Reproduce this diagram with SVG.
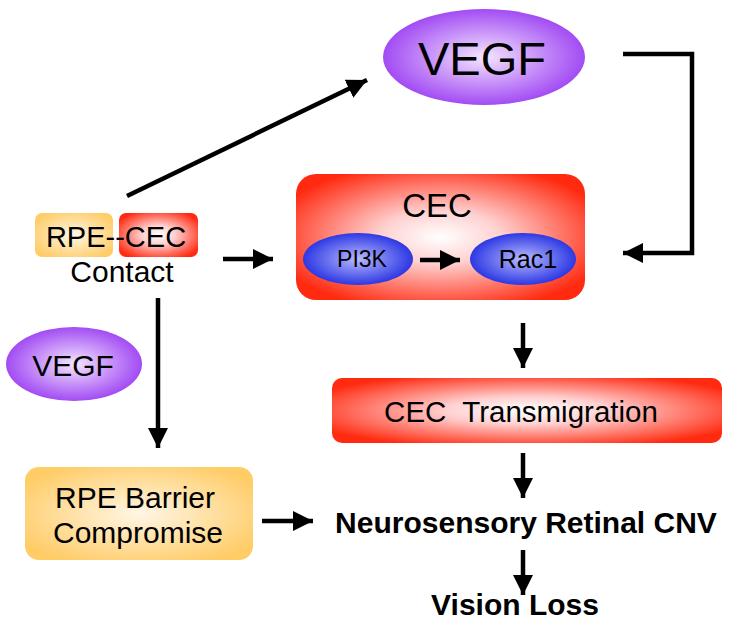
<svg xmlns="http://www.w3.org/2000/svg" width="729" height="633" viewBox="0 0 729 633">
<defs>
<radialGradient id="gRed" cx="50%" cy="50%" r="60%">
<stop offset="0" stop-color="#FFFFFF"/>
<stop offset="0.35" stop-color="#FFD0D0"/>
<stop offset="1" stop-color="#FF2A10"/>
</radialGradient>
<radialGradient id="gPurple" cx="50%" cy="50%" r="55%">
<stop offset="0" stop-color="#F4E6FF"/>
<stop offset="1" stop-color="#9A3CF2"/>
</radialGradient>
<radialGradient id="gBlue" cx="50%" cy="50%" r="55%">
<stop offset="0" stop-color="#B8BAFF"/>
<stop offset="1" stop-color="#1F2BE0"/>
</radialGradient>
<radialGradient id="gOrange" cx="50%" cy="50%" r="60%">
<stop offset="0" stop-color="#FFF6E6"/>
<stop offset="1" stop-color="#FFCC66"/>
</radialGradient>
<marker id="ah" markerUnits="userSpaceOnUse" markerWidth="22" markerHeight="20" refX="20" refY="10" orient="auto">
<path d="M0,0 L20,10 L0,20 Z" fill="#000"/>
</marker>
</defs>
<style>
text{font-family:"Liberation Sans",Arial,sans-serif;fill:#000;text-anchor:middle}
.b{font-weight:bold}
.c{fill:none;stroke:#000;stroke-width:4.5;marker-end:url(#ah)}
</style>
<rect width="729" height="633" fill="#fff"/>
<g id="vegf-top">
<ellipse cx="484" cy="57" rx="101" ry="48" fill="url(#gPurple)"/>
<text x="482" y="75" font-size="47">VEGF</text>
</g>
<g id="cec">
<rect x="296" y="174" width="289" height="126" rx="20" fill="url(#gRed)"/>
<text x="437" y="217" font-size="33">CEC</text>
</g>
<g id="pi3k">
<ellipse cx="358" cy="259" rx="55" ry="26" fill="url(#gBlue)"/>
<text x="362" y="267" font-size="23">PI3K</text>
</g>
<g id="rac1">
<ellipse cx="523" cy="259" rx="53" ry="26" fill="url(#gBlue)"/>
<text x="528" y="268" font-size="25">Rac1</text>
</g>
<g id="rpe-cec-contact">
<rect x="35" y="213" width="78" height="44" rx="7" fill="url(#gOrange)"/>
<rect x="119" y="213" width="79" height="44" rx="7" fill="url(#gRed)"/>
<text x="116" y="247" font-size="29">RPE--CEC</text>
<text x="122" y="282" font-size="30">Contact</text>
</g>
<g id="vegf-small">
<ellipse cx="74" cy="364" rx="68" ry="37" fill="url(#gPurple)"/>
<text x="73" y="376" font-size="30">VEGF</text>
</g>
<g id="transmigration">
<rect x="332" y="378" width="390" height="65" rx="10" fill="url(#gRed)"/>
<text x="521" y="422" font-size="29.5" xml:space="preserve">CEC  Transmigration</text>
</g>
<g id="rpe-barrier">
<rect x="25" y="467" width="228" height="93" rx="14" fill="url(#gOrange)"/>
<text x="135" y="508" font-size="30">RPE Barrier</text>
<text x="138" y="543" font-size="30">Compromise</text>
</g>
<g id="cnv">
<text class="b" x="526" y="533" font-size="30">Neurosensory Retinal CNV</text>
</g>
<g id="vision-loss">
<text class="b" x="515" y="615" font-size="30">Vision Loss</text>
</g>
<g id="connectors">
<path class="c" d="M127,196 L367,80"/>
<path class="c" d="M623,54 L692,54 L692,253 L623,253"/>
<path class="c" d="M223,259 L273,259"/>
<path class="c" d="M420,260 L460,260"/>
<path class="c" d="M523,323 L523,368"/>
<path class="c" d="M523,453 L523,498"/>
<path class="c" d="M523,550 L523,595"/>
<path class="c" d="M262,521 L313,521"/>
<path class="c" d="M158,298 L158,448"/>
</g>
</svg>
